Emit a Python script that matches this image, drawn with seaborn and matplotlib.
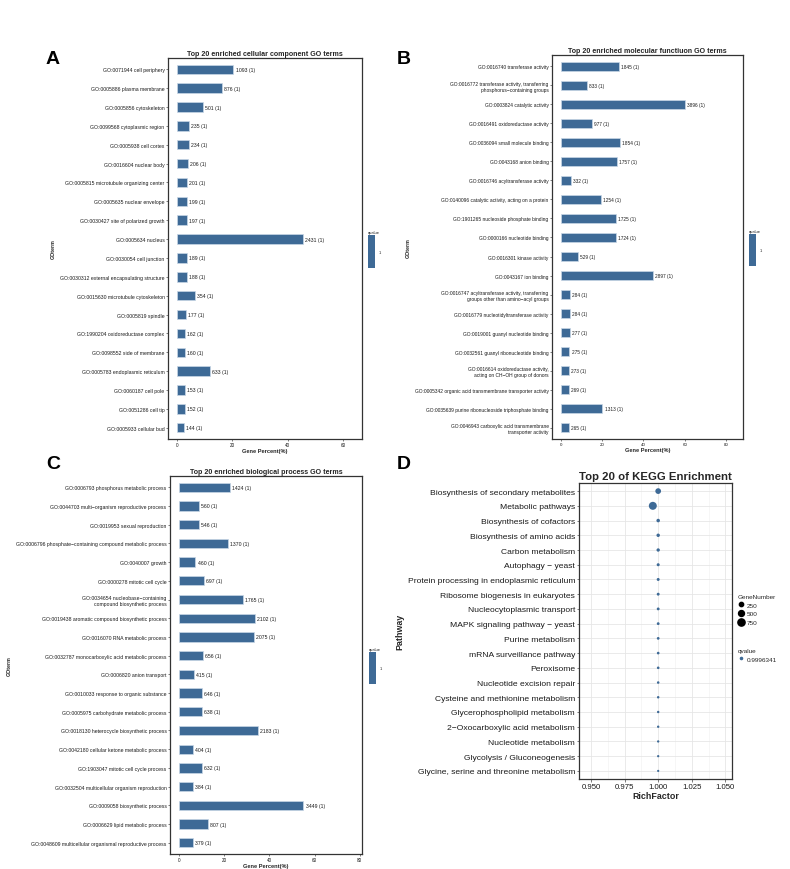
import numpy as np
import pandas as pd
import matplotlib
matplotlib.use("Agg")
import matplotlib.pyplot as plt
from matplotlib.lines import Line2D
from matplotlib.colors import ListedColormap, Normalize
from matplotlib.cm import ScalarMappable
import seaborn as sns

# --- data: GO cellular component ---
cc_terms = [
    "GO:0071944 cell periphery", "GO:0005886 plasma membrane", "GO:0005856 cytoskeleton",
    "GO:0099568 cytoplasmic region", "GO:0005938 cell cortex", "GO:0016604 nuclear body",
    "GO:0005815 microtubule organizing center", "GO:0005635 nuclear envelope",
    "GO:0030427 site of polarized growth", "GO:0005634 nucleus", "GO:0030054 cell junction",
    "GO:0030312 external encapsulating structure", "GO:0015630 microtubule cytoskeleton",
    "GO:0005819 spindle", "GO:1990204 oxidoreductase complex", "GO:0098552 side of membrane",
    "GO:0005783 endoplasmic reticulum", "GO:0060187 cell pole", "GO:0051286 cell tip",
    "GO:0005933 cellular bud",
]
cc_counts = [1093, 876, 501, 235, 234, 206, 201, 199, 197, 2431,
             189, 188, 354, 177, 162, 160, 633, 153, 152, 144]
cc_pct = [20.40, 16.35, 9.35, 4.39, 4.37, 3.84, 3.75, 3.71, 3.68, 45.37,
          3.53, 3.51, 6.61, 3.30, 3.02, 2.99, 11.81, 2.86, 2.84, 2.69]

# --- data: GO molecular function ---
mf_terms = [
    "GO:0016740 transferase activity",
    "GO:0016772 transferase activity, transferring\nphosphorus\u2212containing groups",
    "GO:0003824 catalytic activity", "GO:0016491 oxidoreductase activity",
    "GO:0036094 small molecule binding", "GO:0043168 anion binding",
    "GO:0016746 acyltransferase activity", "GO:0140096 catalytic activity, acting on a protein",
    "GO:1901265 nucleoside phosphate binding", "GO:0000166 nucleotide binding",
    "GO:0016301 kinase activity", "GO:0043167 ion binding",
    "GO:0016747 acyltransferase activity, transferring\ngroups other than amino\u2212acyl groups",
    "GO:0016779 nucleotidyltransferase activity", "GO:0019001 guanyl nucleotide binding",
    "GO:0032561 guanyl ribonucleotide binding",
    "GO:0016614 oxidoreductase activity,\nacting on CH\u2212OH group of donors",
    "GO:0005342 organic acid transmembrane transporter activity",
    "GO:0035639 purine ribonucleoside triphosphate binding",
    "GO:0046943 carboxylic acid transmembrane\ntransporter activity",
]
mf_counts = [1845, 833, 3896, 977, 1854, 1757, 332, 1254, 1725, 1724,
             529, 2897, 284, 284, 277, 275, 273, 269, 1313, 265]
mf_pct = [28.41, 12.83, 60.00, 15.05, 28.55, 27.06, 5.11, 19.31, 26.57, 26.55,
          8.15, 44.62, 4.37, 4.37, 4.27, 4.24, 4.20, 4.14, 20.22, 4.08]

# --- data: GO biological process ---
bp_terms = [
    "GO:0006793 phosphorus metabolic process",
    "GO:0044703 multi\u2212organism reproductive process", "GO:0019953 sexual reproduction",
    "GO:0006796 phosphate\u2212containing compound metabolic process", "GO:0040007 growth",
    "GO:0000278 mitotic cell cycle",
    "GO:0034654 nucleobase\u2212containing\ncompound biosynthetic process",
    "GO:0019438 aromatic compound biosynthetic process", "GO:0016070 RNA metabolic process",
    "GO:0032787 monocarboxylic acid metabolic process", "GO:0006820 anion transport",
    "GO:0010033 response to organic substance", "GO:0005975 carbohydrate metabolic process",
    "GO:0018130 heterocycle biosynthetic process", "GO:0042180 cellular ketone metabolic process",
    "GO:1903047 mitotic cell cycle process", "GO:0032504 multicellular organism reproduction",
    "GO:0009058 biosynthetic process", "GO:0006629 lipid metabolic process",
    "GO:0048609 multicellular organismal reproductive process",
]
bp_counts = [1424, 560, 546, 1370, 460, 697, 1765, 2102, 2075, 656,
             415, 646, 638, 2183, 404, 632, 384, 3449, 807, 379]
bp_pct = [22.75, 8.95, 8.72, 21.88, 7.35, 11.13, 28.19, 33.58, 33.15, 10.48,
          6.63, 10.32, 10.19, 34.87, 6.45, 10.10, 6.13, 55.10, 12.89, 6.05]

# --- data: KEGG ---
kegg_pathways = [
    "Biosynthesis of secondary metabolites", "Metabolic pathways", "Biosynthesis of cofactors",
    "Biosynthesis of amino acids", "Carbon metabolism", "Autophagy \u2212 yeast",
    "Protein processing in endoplasmic reticulum", "Ribosome biogenesis in eukaryotes",
    "Nucleocytoplasmic transport", "MAPK signaling pathway \u2212 yeast", "Purine metabolism",
    "mRNA surveillance pathway", "Peroxisome", "Nucleotide excision repair",
    "Cysteine and methionine metabolism", "Glycerophospholipid metabolism",
    "2\u2212Oxocarboxylic acid metabolism", "Nucleotide metabolism",
    "Glycolysis / Gluconeogenesis", "Glycine, serine and threonine metabolism",
]
kegg_richfactor = [1.0, 0.996, 1.0, 1.0, 1.0, 1.0, 1.0, 1.0, 1.0, 1.0,
                   1.0, 1.0, 1.0, 1.0, 1.0, 1.0, 1.0, 1.0, 1.0, 1.0]
kegg_genes = [460, 920, 160, 150, 140, 110, 105, 100, 95, 90,
              85, 80, 75, 70, 65, 62, 58, 55, 50, 45]
kegg_qvalue = "0.9996341"

BAR = "#3E6A96"
EDGE = "#C9D7E6"
FRAME = "#333333"
TXT = "#1A1A1A"

sns.set_style("white")
plt.rcParams["font.family"] = ["Liberation Sans", "DejaVu Sans"]

W, H = 790, 870
fig = plt.figure(figsize=(W / 100, H / 100), dpi=100)


def px_axes(x0, y0, x1, y1):
    return fig.add_axes([x0 / W, 1 - y1 / H, (x1 - x0) / W, (y1 - y0) / H])


def go_panel(ax, terms, pct, counts, title, xlim, ticks, fs_y, fs_bar, fs_x):
    df = pd.DataFrame({"term": terms, "pct": pct})
    sns.barplot(data=df, x="pct", y="term", orient="h", color=BAR, saturation=1,
                width=0.5, edgecolor=EDGE, linewidth=0.5, ax=ax)
    ax.bar_label(ax.containers[0], labels=[f"{c} (1)" for c in counts],
                 padding=1.5, fontsize=fs_bar, color=TXT)
    ax.set_xlim(*xlim)
    ax.set_ylim(len(terms) - 0.4, -0.6)
    ax.set_xticks(ticks)
    ax.set_xticklabels([str(t) for t in ticks])
    ax.tick_params(axis="y", labelsize=fs_y, length=1.5, width=0.4, pad=1,
                   colors=TXT, left=True)
    ax.tick_params(axis="x", labelsize=fs_x, length=1.5, width=0.4, pad=1,
                   colors=TXT, bottom=True)
    ax.set_xlabel("Gene Percent(%)", fontsize=4.1, fontweight="bold", labelpad=0.5)
    ax.set_ylabel("GOterm", fontsize=3.8, fontweight="bold", labelpad=3)
    ax.set_title(title, fontsize=5.1, fontweight="bold", pad=2.5)
    for s in ax.spines.values():
        s.set_color(FRAME)
        s.set_linewidth(0.9)


def qvalue_bar(x0, y0, x1, y1):
    cax = px_axes(x0, y0, x1, y1)
    sm = ScalarMappable(norm=Normalize(0.5, 1.5), cmap=ListedColormap([BAR]))
    cb = fig.colorbar(sm, cax=cax, ticks=[1])
    cb.outline.set_visible(False)
    cb.ax.tick_params(labelsize=3, length=1.5, width=0.3, color="white", pad=1.5)
    cb.ax.set_title("qvalue", fontsize=3, pad=1.5, loc="left")


# panel A
axa = px_axes(168, 59, 362, 440)
go_panel(axa, cc_terms, cc_pct, cc_counts,
         "Top 20 enriched cellular component GO terms",
         (-3.2, 66.7), [0, 20, 40, 60], 3.7, 3.7, 3.3)
qvalue_bar(368, 236, 375, 269)

# panel B
axb = px_axes(552, 56, 743, 440)
go_panel(axb, mf_terms, mf_pct, mf_counts,
         "Top 20 enriched molecular functiuon GO terms",
         (-4.2, 88.2), [0, 20, 40, 60, 80], 3.5, 3.4, 3.2)
qvalue_bar(749, 235, 756, 267)

# panel C
axc = px_axes(170, 477, 362, 855)
go_panel(axc, bp_terms, bp_pct, bp_counts,
         "Top 20 enriched biological process GO terms",
         (-3.9, 81.0), [0, 20, 40, 60, 80], 3.7, 3.7, 3.3)
qvalue_bar(369, 653, 376, 685)

# panel D
axd = px_axes(579, 484, 732, 780)
kdf = pd.DataFrame({"Pathway": kegg_pathways, "RichFactor": kegg_richfactor,
                    "GeneNumber": kegg_genes})
size_range = (2.5, 33)
size_norm = (45, 920)
sns.scatterplot(data=kdf, x="RichFactor", y="Pathway", size="GeneNumber",
                sizes=size_range, size_norm=size_norm, color=BAR, linewidth=0,
                legend=False, ax=axd, zorder=3)
axd.set_xlim(0.941, 1.055)
axd.set_ylim(len(kegg_pathways) - 0.45, -0.55)
xt = [0.950, 0.975, 1.000, 1.025, 1.050]
axd.set_xticks(xt)
axd.set_xticklabels([f"{t:.3f}" for t in xt])
axd.set_xticks([0.9625, 0.9875, 1.0125, 1.0375], minor=True)
axd.set_axisbelow(True)
axd.grid(True, which="major", color="#E6E6E6", linewidth=0.6)
axd.grid(True, which="minor", axis="x", color="#F0F0F0", linewidth=0.4)
axd.tick_params(axis="y", labelsize=6.1, length=1.8, width=0.4, pad=1, colors=TXT, left=True)
axd.tick_params(axis="x", labelsize=5.6, length=1.8, width=0.4, pad=1, colors=TXT, bottom=True)
axd.tick_params(axis="x", which="minor", length=0)
axd.set_xlabel("RichFactor", fontsize=6.4, fontweight="bold", labelpad=1)
axd.set_ylabel("Pathway", fontsize=6.4, fontweight="bold", labelpad=2)
axd.set_title("Top 20 of KEGG Enrichment", fontsize=8.2, fontweight="bold", pad=3)
for s in axd.spines.values():
    s.set_color(FRAME)
    s.set_linewidth(0.9)


def area(v):
    return size_range[0] + (v - size_norm[0]) / (size_norm[1] - size_norm[0]) * (size_range[1] - size_range[0])


gn_handles = [Line2D([], [], marker="o", ls="", color="black", markersize=np.sqrt(area(v)))
              for v in [250, 500, 750]]
leg1 = axd.legend(gn_handles, ["250", "500", "750"], title="GeneNumber",
                  bbox_to_anchor=(738 / W, 1 - 595 / H), bbox_transform=fig.transFigure,
                  loc="upper left", frameon=False, fontsize=4.6, title_fontsize=4.6,
                  alignment="left", handlelength=1, handletextpad=0.4,
                  labelspacing=0.5, borderaxespad=0, borderpad=0)
axd.add_artist(leg1)
q_handle = [Line2D([], [], marker="o", ls="", color=BAR, markersize=np.sqrt(area(45)))]
axd.legend(q_handle, [kegg_qvalue], title="qvalue",
           bbox_to_anchor=(738 / W, 1 - 649 / H), bbox_transform=fig.transFigure,
           loc="upper left", frameon=False, fontsize=4.6, title_fontsize=4.6,
           alignment="left", handlelength=1, handletextpad=0.4,
           borderaxespad=0, borderpad=0)

# panel letters
for letter, x, y in [("A", 46, 60), ("B", 397, 60), ("C", 46, 465), ("D", 397, 465)]:
    fig.text(x / W, 1 - y / H, letter, fontsize=14, fontweight="bold",
             ha="left", va="center", color="black")

fig.savefig("out.png", dpi=100)
plt.close(fig)
